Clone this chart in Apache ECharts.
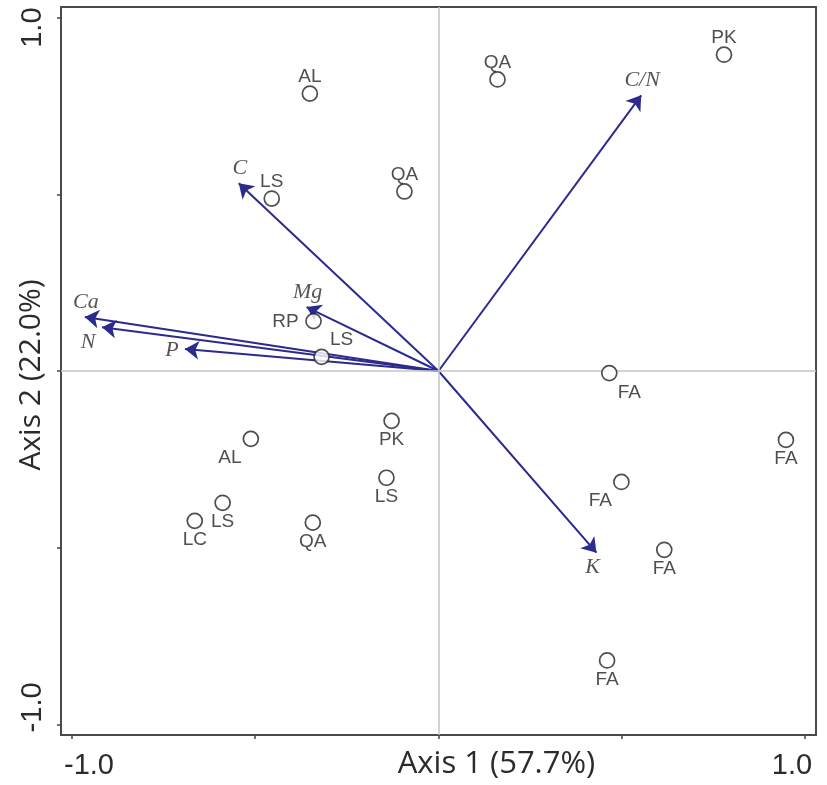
<!DOCTYPE html>
<html><head><meta charset="utf-8">
<script src="https://cdn.jsdelivr.net/npm/echarts@6/dist/echarts.min.js"></script>
<style>html,body{margin:0;padding:0;background:#fff}#c{width:827px;height:785px}</style>
</head><body><div id="c"></div>
<script>
// ---- data ----
const sampleNames = ['PK','QA','AL','QA','LS','RP','LS','FA','FA','PK','AL','LS','FA','LS','LC','QA','FA','FA'];
const sampleX = [0.779,0.161,-0.351,-0.093,-0.455,-0.341,-0.319,0.466,0.948,-0.128,-0.512,-0.142,0.499,-0.589,-0.665,-0.343,0.616,0.460];
const sampleY = [0.895,0.825,0.785,0.508,0.488,0.141,0.040,-0.006,-0.195,-0.141,-0.192,-0.302,-0.314,-0.373,-0.424,-0.429,-0.506,-0.819];
const sampleLabelSide = ['top','top','top','top','top','left','topRight','bottomRight','bottom','bottom','bottomLeft','bottom','bottomLeft','bottom','bottom','bottom','bottom','bottom'];
const varNames = ['C/N','C','Mg','Ca','N','P','K'];
const varX = [0.553,-0.545,-0.360,-0.965,-0.918,-0.692,0.431];
const varY = [0.780,0.531,0.181,0.153,0.124,0.062,-0.514];
const varLabelSide = ['top','top','top','top','bottomLeft','left','bottomK'];
const axisTicks = [-1,-0.5,0,0.5,1];
const tickLabelValues = [-1,1];
const xTitle = 'Axis 1 (57.7%)';
const yTitle = 'Axis 2 (22.0%)';

// ---- styles ----
const sampleOffsets = {top:[0,-17], bottom:[0,19], left:[-28,1], topRight:[20,-17], bottomRight:[20,20], bottomLeft:[-21,19]};
const varOffsets = {top:[1,-15], bottomLeft:[-14,15], left:[-13,1], bottomK:[-4,15]};
const ARROW = '#2d2a8e';
const INK = '#2b2b2b';
const tickFont = {fontFamily:'Liberation Sans', fontSize:29, color:INK};

const chart = echarts.init(document.getElementById('c'), null, {renderer:'canvas'});
const option = {
  backgroundColor:'#fff',
  animation:false,
  grid:{left:61, right:11, top:7, bottom:50, show:true, borderColor:'#4a4a4a', borderWidth:2, backgroundColor:'transparent', outerBoundsMode:'none'},
  xAxis:{
    type:'value', min:-1.03, max:1.03,
    axisLine:{show:false, onZero:false},
    splitLine:{show:false},
    axisTick:{show:true, customValues:axisTicks, length:4, lineStyle:{color:'#444', width:1.5}},
    axisLabel:{customValues:tickLabelValues, margin:16,
      formatter:v => (v<0 ? '{lo|' : '{hi|') + v.toFixed(1) + '}',
      rich:{lo:Object.assign({padding:[0,0,0,34]}, tickFont), hi:Object.assign({padding:[0,26,0,0]}, tickFont)}},
    name:xTitle, nameLocation:'middle', nameGap:14, nameMoveOverlap:false,
    nameTextStyle:{fontFamily:'Open Sans', fontSize:31, color:INK, padding:[0,0,0,116]}
  },
  yAxis:{
    type:'value', min:-1.03, max:1.03,
    axisLine:{show:false, onZero:false},
    splitLine:{show:false},
    axisTick:{show:true, customValues:axisTicks, length:4, lineStyle:{color:'#444', width:1.5}},
    axisLabel:{customValues:tickLabelValues, margin:14, rotate:90,
      formatter:v => (v<0 ? '{lo|' : '{hi|') + v.toFixed(1) + '}',
      rich:{lo:Object.assign({padding:[0,0,0,34]}, tickFont), hi:Object.assign({padding:[0,20,0,0]}, tickFont)}},
    name:yTitle, nameLocation:'middle', nameGap:15, nameRotate:90, nameMoveOverlap:false,
    nameTextStyle:{fontFamily:'Open Sans', fontSize:30, color:INK, padding:[0,8,0,0]}
  },
  series:[
    {
      type:'scatter', data:[], silent:true, z:1,
      markLine:{silent:true, symbol:['none','none'], label:{show:false},
        lineStyle:{color:'#c4c4c4', width:1.5, type:'solid'},
        data:[{xAxis:0},{yAxis:0}]}
    },
    {
      type:'lines', coordinateSystem:'cartesian2d', silent:true, z:3,
      symbol:['none','arrow'], symbolSize:14,
      lineStyle:{color:ARROW, width:2, opacity:1, curveness:0},
      data:varX.map((x,i)=>({coords:[[0,0],[x,varY[i]]]}))
    },
    {
      type:'scatter', silent:true, z:4, symbolSize:0,
      data:varX.map((x,i)=>({value:[x,varY[i]], name:varNames[i],
        label:{offset:varOffsets[varLabelSide[i]]}})),
      label:{show:true, position:'inside', formatter:'{b}', fontFamily:'Liberation Serif', fontStyle:'italic', fontSize:22, color:INK}
    },
    {
      type:'scatter', silent:true, z:5, symbol:'circle', symbolSize:15,
      itemStyle:{color:'#fff', borderColor:'#222', borderWidth:1.7},
      data:sampleX.map((x,i)=>({value:[x,sampleY[i]], name:sampleNames[i],
        label:{offset:sampleOffsets[sampleLabelSide[i]]}})),
      label:{show:true, position:'inside', formatter:'{b}', fontFamily:'Liberation Sans', fontSize:19, color:'#222'}
    }
  ]
};
chart.setOption(option);
</script>
</body></html>
